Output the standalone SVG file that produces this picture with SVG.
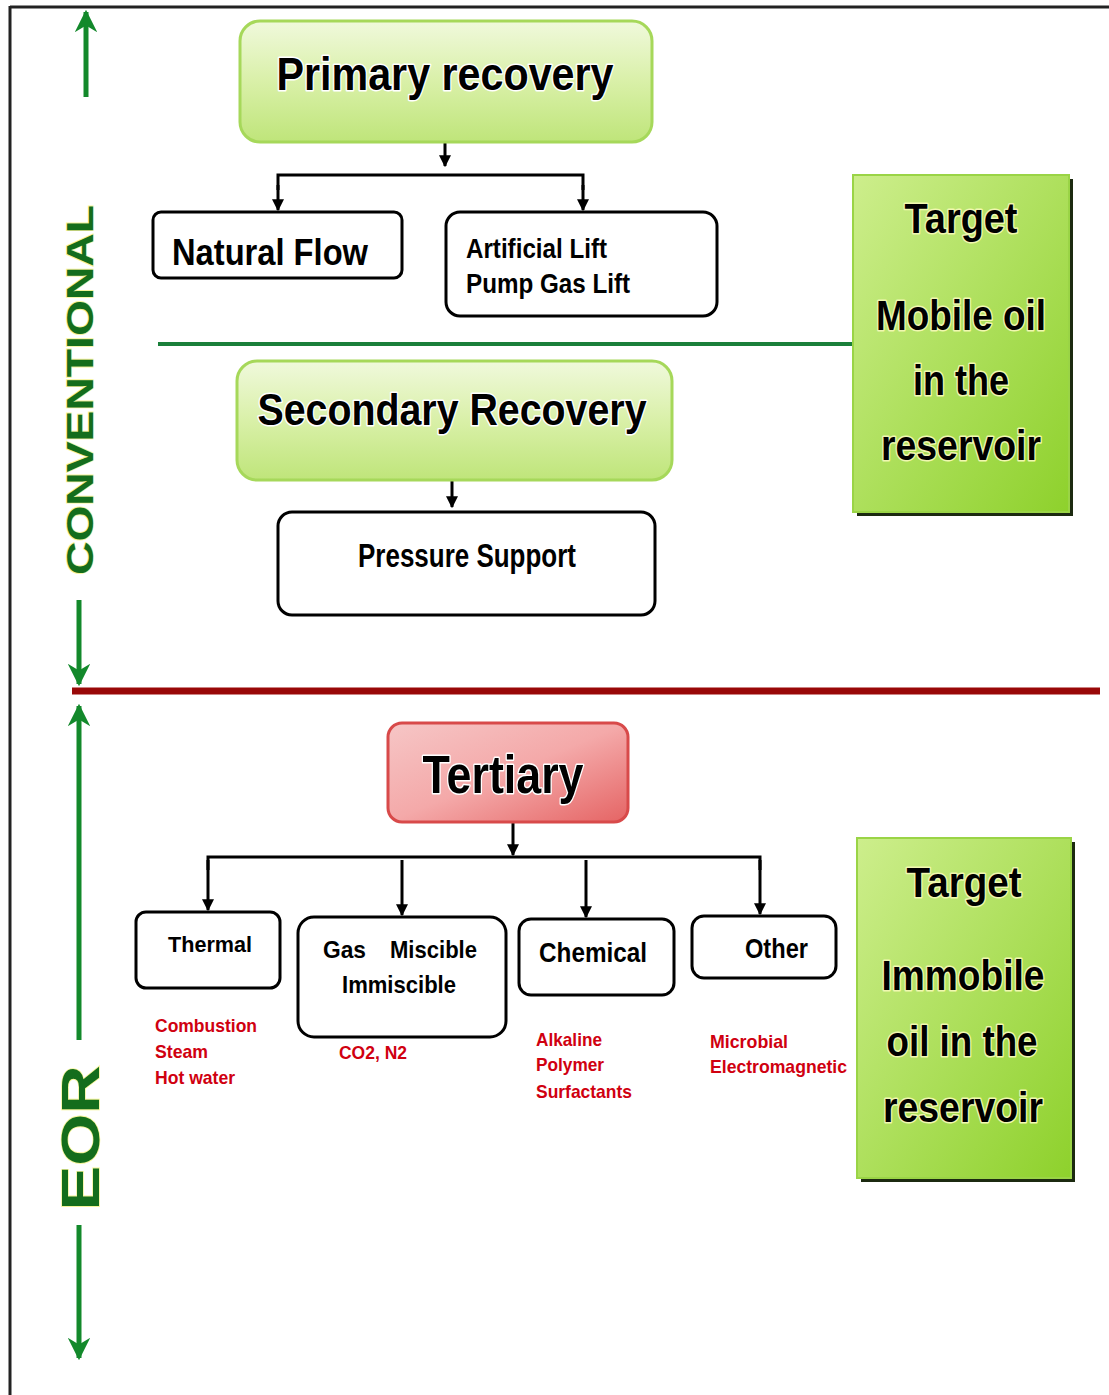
<svg xmlns="http://www.w3.org/2000/svg" width="1109" height="1395" viewBox="0 0 1109 1395">
<defs>
<linearGradient id="gLight" x1="0" y1="0" x2="0" y2="1">
<stop offset="0" stop-color="#f0f9dc"/><stop offset="0.5" stop-color="#d9f0a8"/><stop offset="1" stop-color="#bfe57a"/>
</linearGradient>
<linearGradient id="gTarget" x1="0" y1="0" x2="1" y2="1">
<stop offset="0" stop-color="#cdee8c"/><stop offset="1" stop-color="#8ed12c"/>
</linearGradient>
<linearGradient id="gRed" x1="0" y1="0" x2="1" y2="1">
<stop offset="0" stop-color="#f6c6c6"/><stop offset="0.5" stop-color="#f4a9a9"/><stop offset="1" stop-color="#e56464"/>
</linearGradient>
<marker id="ah" viewBox="0 0 10 10" refX="9" refY="5" markerWidth="4" markerHeight="4" orient="auto" markerUnits="strokeWidth">
<path d="M0,0 L10,5 L0,10 z" fill="#000"/>
</marker>
<marker id="gh" viewBox="0 0 10 10" refX="9" refY="5" markerWidth="4.5" markerHeight="4.5" orient="auto" markerUnits="strokeWidth">
<path d="M0,0 L10,5 L0,10 L3,5 z" fill="#13892b"/>
</marker>
</defs>
<style>
.t{font-family:"Liberation Sans",Arial,sans-serif;font-weight:bold;fill:#000}
.glow{stroke:#fff;stroke-width:3;paint-order:stroke;stroke-linejoin:round}
.tg{stroke:#f0f7b0;stroke-width:3;paint-order:stroke;stroke-linejoin:round}
.box{fill:#fff;stroke:#000;stroke-width:3}
.red{font-family:"Liberation Sans",Arial,sans-serif;font-weight:bold;fill:#d00010;font-size:19px}
.conn line,.conn path{stroke:#000;stroke-width:3;fill:none}
.garr{stroke:#13892b;stroke-width:5;fill:none}
.side{font-family:"Liberation Sans",Arial,sans-serif;fill:#146d1c;stroke:#f6f59a;stroke-width:1.5;paint-order:stroke}
</style>
<rect width="1109" height="1395" fill="#fff"/>
<g id="frame">
<line x1="10" y1="7" x2="1109" y2="7" stroke="#222" stroke-width="3"/>
<line x1="10" y1="6" x2="10" y2="1395" stroke="#222" stroke-width="3"/>
</g>
<g id="dividers">
<line x1="158" y1="344" x2="852" y2="344" stroke="#1a7f3a" stroke-width="4"/>
<line x1="72" y1="691" x2="1100" y2="691" stroke="#990808" stroke-width="7"/>
</g>
<g id="side-conventional">
<line class="garr" x1="86" y1="97" x2="86" y2="12" marker-end="url(#gh)"/>
<text class="side" font-size="37" font-weight="bold" transform="translate(93,390) rotate(-90)" text-anchor="middle" textLength="370" lengthAdjust="spacingAndGlyphs">CONVENTIONAL</text>
<line class="garr" x1="79" y1="600" x2="79" y2="684" marker-end="url(#gh)"/>
</g>
<g id="side-eor">
<line class="garr" x1="79" y1="1040" x2="79" y2="706" marker-end="url(#gh)"/>
<text class="side" font-size="54" font-weight="bold" transform="translate(99,1138) rotate(-90)" text-anchor="middle" textLength="145" lengthAdjust="spacingAndGlyphs">EOR</text>
<line class="garr" x1="79" y1="1225" x2="79" y2="1358" marker-end="url(#gh)"/>
</g>
<g class="conn" id="connectors">
<line x1="445" y1="142" x2="445" y2="166" marker-end="url(#ah)"/>
<path d="M278,190 V175 H583 V190"/>
<line x1="278" y1="185" x2="278" y2="210" marker-end="url(#ah)"/>
<line x1="583" y1="185" x2="583" y2="210" marker-end="url(#ah)"/>
<line x1="452" y1="480" x2="452" y2="507" marker-end="url(#ah)"/>
<line x1="513" y1="822" x2="513" y2="855" marker-end="url(#ah)"/>
<path d="M208,870 V857 H760 V870"/>
<line x1="208" y1="860" x2="208" y2="910" marker-end="url(#ah)"/>
<line x1="402" y1="860" x2="402" y2="915" marker-end="url(#ah)"/>
<line x1="586" y1="860" x2="586" y2="917" marker-end="url(#ah)"/>
<line x1="760" y1="860" x2="760" y2="914" marker-end="url(#ah)"/>
</g>
<g id="primary">
<rect x="240" y="21" width="412" height="121" rx="20" fill="url(#gLight)" stroke="#a6d85a" stroke-width="3"/>
<text class="t glow" x="445" y="90" font-size="46" text-anchor="middle" textLength="337" lengthAdjust="spacingAndGlyphs">Primary recovery</text>
</g>
<g id="natural-flow">
<rect class="box" x="153" y="212" width="249" height="66" rx="8"/>
<text class="t" x="270" y="265" font-size="36" text-anchor="middle" textLength="196" lengthAdjust="spacingAndGlyphs">Natural Flow</text>
</g>
<g id="artificial-lift">
<rect class="box" x="446" y="212" width="271" height="104" rx="14"/>
<text class="t" x="466" y="258" font-size="27" textLength="141" lengthAdjust="spacingAndGlyphs">Artificial Lift</text>
<text class="t" x="466" y="293" font-size="27" textLength="164" lengthAdjust="spacingAndGlyphs">Pump Gas Lift</text>
</g>
<g id="target-mobile">
<rect x="857" y="179" width="216" height="337" fill="#1c2a10"/>
<rect x="853" y="175" width="216" height="337" fill="url(#gTarget)" stroke="#9ad446" stroke-width="2"/>
<text class="t tg" x="961" y="233" font-size="42" text-anchor="middle" textLength="113" lengthAdjust="spacingAndGlyphs">Target</text>
<text class="t tg" x="961" y="330" font-size="42" text-anchor="middle" textLength="170" lengthAdjust="spacingAndGlyphs">Mobile oil</text>
<text class="t tg" x="961" y="395" font-size="42" text-anchor="middle" textLength="96" lengthAdjust="spacingAndGlyphs">in the</text>
<text class="t tg" x="961" y="460" font-size="42" text-anchor="middle" textLength="160" lengthAdjust="spacingAndGlyphs">reservoir</text>
</g>
<g id="secondary">
<rect x="237" y="361" width="435" height="119" rx="20" fill="url(#gLight)" stroke="#a6d85a" stroke-width="3"/>
<text class="t glow" x="452" y="425" font-size="44" text-anchor="middle" textLength="389" lengthAdjust="spacingAndGlyphs">Secondary Recovery</text>
</g>
<g id="pressure-support">
<rect class="box" x="278" y="512" width="377" height="103" rx="14"/>
<text class="t" x="467" y="567" font-size="33" text-anchor="middle" textLength="218" lengthAdjust="spacingAndGlyphs">Pressure Support</text>
</g>
<g id="tertiary">
<rect x="388" y="723" width="240" height="99" rx="14" fill="url(#gRed)" stroke="#d84a4a" stroke-width="3"/>
<text class="t glow" x="503" y="793" font-size="54" text-anchor="middle" textLength="161" lengthAdjust="spacingAndGlyphs">Tertiary</text>
</g>
<g id="thermal">
<rect class="box" x="136" y="912" width="144" height="76" rx="10"/>
<text class="t" x="168" y="952" font-size="22" textLength="84" lengthAdjust="spacingAndGlyphs">Thermal</text>
<text class="red" x="155" y="1032" textLength="102" lengthAdjust="spacingAndGlyphs">Combustion</text>
<text class="red" x="155" y="1058" textLength="53" lengthAdjust="spacingAndGlyphs">Steam</text>
<text class="red" x="155" y="1084" textLength="80" lengthAdjust="spacingAndGlyphs">Hot water</text>
</g>
<g id="gas">
<rect class="box" x="298" y="917" width="208" height="120" rx="16"/>
<text class="t" x="323" y="958" font-size="24" textLength="43" lengthAdjust="spacingAndGlyphs">Gas</text>
<text class="t" x="390" y="958" font-size="24" textLength="87" lengthAdjust="spacingAndGlyphs">Miscible</text>
<text class="t" x="342" y="993" font-size="24" textLength="114" lengthAdjust="spacingAndGlyphs">Immiscible</text>
<text class="red" x="339" y="1059" font-size="17" textLength="68" lengthAdjust="spacingAndGlyphs">CO2, N2</text>
</g>
<g id="chemical">
<rect class="box" x="519" y="919" width="155" height="76" rx="12"/>
<text class="t" x="539" y="962" font-size="27" textLength="108" lengthAdjust="spacingAndGlyphs">Chemical</text>
<text class="red" x="536" y="1046" textLength="66" lengthAdjust="spacingAndGlyphs">Alkaline</text>
<text class="red" x="536" y="1071" textLength="68" lengthAdjust="spacingAndGlyphs">Polymer</text>
<text class="red" x="536" y="1098" textLength="96" lengthAdjust="spacingAndGlyphs">Surfactants</text>
</g>
<g id="other">
<rect class="box" x="692" y="916" width="144" height="62" rx="12"/>
<text class="t" x="745" y="958" font-size="27" textLength="63" lengthAdjust="spacingAndGlyphs">Other</text>
<text class="red" x="710" y="1048" textLength="78" lengthAdjust="spacingAndGlyphs">Microbial</text>
<text class="red" x="710" y="1073" textLength="137" lengthAdjust="spacingAndGlyphs">Electromagnetic</text>
</g>
<g id="target-immobile">
<rect x="861" y="842" width="214" height="340" fill="#1c2a10"/>
<rect x="857" y="838" width="214" height="340" fill="url(#gTarget)" stroke="#9ad446" stroke-width="2"/>
<text class="t tg" x="964" y="897" font-size="42" text-anchor="middle" textLength="115" lengthAdjust="spacingAndGlyphs">Target</text>
<text class="t tg" x="963" y="990" font-size="42" text-anchor="middle" textLength="163" lengthAdjust="spacingAndGlyphs">Immobile</text>
<text class="t tg" x="962" y="1056" font-size="42" text-anchor="middle" textLength="151" lengthAdjust="spacingAndGlyphs">oil in the</text>
<text class="t tg" x="963" y="1122" font-size="42" text-anchor="middle" textLength="160" lengthAdjust="spacingAndGlyphs">reservoir</text>
</g>
</svg>
